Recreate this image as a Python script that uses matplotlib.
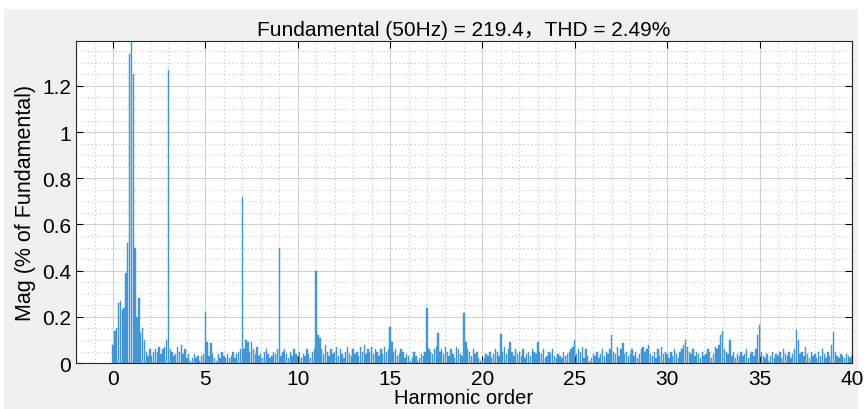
import matplotlib.pyplot as plt
import numpy as np
from matplotlib.ticker import MultipleLocator, FormatStrFormatter
from matplotlib.patches import Rectangle

# harmonic order, step 0.1 from 0 to 40
harmonic = [round(i * 0.1, 1) for i in range(401)]

# magnitude (% of fundamental)
mag = [
    0.08, 0.14, 0.15, 0.26, 0.27, 0.23, 0.24, 0.39, 0.52, 1.34,
    1.39, 1.25, 0.50, 0.20, 0.28, 0.13, 0.15, 0.10, 0.05, 0.03,
    0.06, 0.03, 0.05, 0.06, 0.05, 0.07, 0.04, 0.06, 0.07, 0.10,
    1.27, 0.06, 0.05, 0.03, 0.04, 0.07, 0.05, 0.08, 0.04, 0.06,
    0.02, 0.04, 0.01, 0.02, 0.04, 0.02, 0.03, 0.01, 0.03, 0.04,
    0.22, 0.09, 0.03, 0.085, 0.04, 0.02, 0.01, 0.04, 0.02, 0.05,
    0.03, 0.02, 0.04, 0.02, 0.03, 0.05, 0.02, 0.04, 0.05, 0.06,
    0.72, 0.06, 0.10, 0.09, 0.05, 0.09, 0.06, 0.04, 0.07, 0.03,
    0.04, 0.02, 0.05, 0.06, 0.04, 0.02, 0.03, 0.05, 0.04, 0.06,
    0.50, 0.03, 0.05, 0.06, 0.04, 0.02, 0.05, 0.03, 0.06, 0.04,
    0.03, 0.05, 0.02, 0.04, 0.03, 0.06, 0.04, 0.02, 0.05, 0.06,
    0.40, 0.12, 0.11, 0.06, 0.04, 0.08, 0.05, 0.03, 0.06, 0.04,
    0.05, 0.07, 0.03, 0.06, 0.04, 0.02, 0.05, 0.07, 0.04, 0.03,
    0.06, 0.04, 0.05, 0.03, 0.07, 0.05, 0.08, 0.04, 0.06, 0.05,
    0.07, 0.04, 0.06, 0.05, 0.03, 0.06, 0.04, 0.07, 0.05, 0.06,
    0.155, 0.09, 0.05, 0.06, 0.03, 0.04, 0.06, 0.05, 0.02, 0.04,
    0.03, 0.01, 0.02, 0.05, 0.03, 0.01, 0.02, 0.04, 0.03, 0.05,
    0.24, 0.06, 0.05, 0.04, 0.06, 0.07, 0.13, 0.05, 0.06, 0.04,
    0.07, 0.05, 0.03, 0.06, 0.04, 0.02, 0.07, 0.06, 0.04, 0.03,
    0.215, 0.09, 0.06, 0.05, 0.03, 0.06, 0.04, 0.05, 0.02, 0.01,
    0.01, 0.02, 0.04, 0.03, 0.05, 0.02, 0.04, 0.06, 0.05, 0.03,
    0.125, 0.05, 0.07, 0.04, 0.06, 0.09, 0.05, 0.03, 0.06, 0.04,
    0.05, 0.03, 0.06, 0.02, 0.04, 0.05, 0.03, 0.06, 0.05, 0.04,
    0.09, 0.05, 0.04, 0.06, 0.02, 0.03, 0.05, 0.04, 0.06, 0.03,
    0.02, 0.04, 0.03, 0.02, 0.05, 0.03, 0.04, 0.05, 0.06, 0.07,
    0.10, 0.04, 0.06, 0.05, 0.07, 0.02, 0.06, 0.03, 0.01, 0.02,
    0.04, 0.03, 0.05, 0.02, 0.04, 0.06, 0.03, 0.05, 0.04, 0.06,
    0.12, 0.05, 0.04, 0.07, 0.03, 0.06, 0.085, 0.04, 0.05, 0.03,
    0.04, 0.06, 0.03, 0.05, 0.02, 0.04, 0.06, 0.07, 0.05, 0.06,
    0.08, 0.04, 0.03, 0.05, 0.02, 0.06, 0.03, 0.07, 0.04, 0.05,
    0.04, 0.02, 0.05, 0.03, 0.06, 0.04, 0.02, 0.05, 0.06, 0.08,
    0.10, 0.07, 0.05, 0.04, 0.06, 0.03, 0.05, 0.04, 0.02, 0.05,
    0.03, 0.04, 0.06, 0.05, 0.02, 0.04, 0.07, 0.06, 0.08, 0.12,
    0.14, 0.06, 0.05, 0.04, 0.10, 0.03, 0.05, 0.02, 0.04, 0.03,
    0.05, 0.03, 0.04, 0.06, 0.02, 0.04, 0.05, 0.03, 0.06, 0.12,
    0.165, 0.05, 0.03, 0.02, 0.04, 0.01, 0.03, 0.05, 0.02, 0.04,
    0.03, 0.05, 0.02, 0.06, 0.04, 0.03, 0.05, 0.02, 0.04, 0.06,
    0.145, 0.10, 0.04, 0.05, 0.03, 0.07, 0.04, 0.02, 0.05, 0.03,
    0.04, 0.02, 0.05, 0.03, 0.06, 0.04, 0.02, 0.05, 0.03, 0.08,
    0.135, 0.05, 0.03, 0.02, 0.04, 0.03, 0.02, 0.04, 0.03, 0.02,
    0.03,
]

title_text = 'Fundamental (50Hz) = 219.4，THD = 2.49%'

plt.rcParams['font.family'] = ['Liberation Sans', 'Noto Sans CJK SC', 'DejaVu Sans']

fig = plt.figure(figsize=(8.64, 4.10), dpi=100, facecolor='white')
# grey window background (screenshot has a thin white border top/left)
fig.patches.append(Rectangle((0.005, 0.0), 0.988, 0.975, transform=fig.transFigure,
                             facecolor='#f0f0f0', edgecolor='none', zorder=-10))

ax = fig.add_axes([0.088, 0.112, 0.898, 0.786])
ax.set_facecolor('white')

ax.bar(harmonic, mag, width=0.075, color='#4a9ad6', edgecolor='#3b8fd0',
       linewidth=0.3, zorder=3)

ax.set_xlim(-2, 40)
ax.set_ylim(0, 1.395)
ax.xaxis.set_major_locator(MultipleLocator(5))
ax.xaxis.set_minor_locator(MultipleLocator(1))
ax.yaxis.set_major_locator(MultipleLocator(0.2))
ax.yaxis.set_minor_locator(MultipleLocator(0.05))
ax.yaxis.set_major_formatter(FormatStrFormatter('%g'))

ax.grid(which='major', color='#d2d2d2', linewidth=0.8, zorder=0)
ax.grid(which='minor', color='#c4c4c4', linestyle=(0, (1, 2.5)), linewidth=0.8, zorder=0)

ax.tick_params(which='both', direction='in', top=True, right=True, labelsize=15)
ax.tick_params(axis='x', which='major', pad=4)
ax.tick_params(which='major', length=5, width=0.8)
ax.tick_params(which='minor', length=0)
for sp in ax.spines.values():
    sp.set_color('#262626')
    sp.set_linewidth(0.8)

ax.set_title(title_text, fontsize=15, pad=4)
ax.set_xlabel('Harmonic order', fontsize=14.5, labelpad=0)
ax.set_ylabel('Mag (% of Fundamental)', fontsize=15.5, labelpad=4)

fig.savefig('out.png', dpi=100, facecolor=fig.get_facecolor())
